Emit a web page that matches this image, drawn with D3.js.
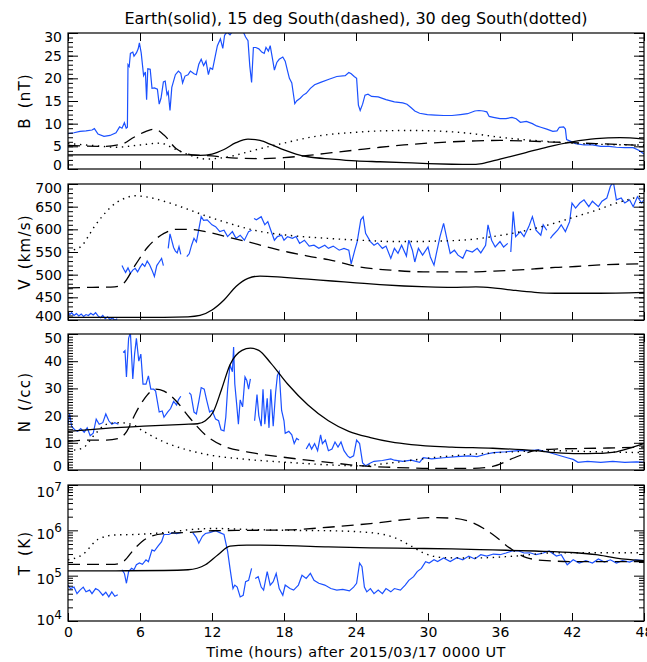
<!DOCTYPE html>
<html>
<head>
<meta charset="utf-8">
<script src="https://cdn.jsdelivr.net/npm/d3@7"></script>
<style>
  body { margin: 0; background: #fff; }
  text { font-family: "DejaVu Sans", sans-serif; fill: #000; }
</style>
</head>
<body>
<svg id="chart"></svg>
<script>
// ---- labels / ticks ----
const titleText = "Earth(solid), 15 deg South(dashed), 30 deg South(dotted)";
const xTitle = "Time (hours) after 2015/03/17 0000 UT";
const panelLabels = ["B (nT)", "V (km/s)", "N (/cc)", "T (K)"];
const hourTicks = [0, 6, 12, 18, 24, 30, 36, 42, 48];
const bTicks = [0, 5, 10, 15, 20, 25, 30];
const vTicks = [400, 450, 500, 550, 600, 650, 700];
const nTicks = [0, 10, 20, 30, 40, 50];
const tTicks = [1e4, 1e5, 1e6, 1e7];

// ---- B (nT) ----  [hour, value], null = data gap
const obsB = [[0,7.8],[0.5,8.0],[1.0,8.3],[1.5,8.4],[2.0,8.6],[2.2,8.9],[2.5,7.7],[3.0,7.2],[3.5,7.4],[4.0,8.0],[4.3,9.3],[4.5,9.0],[4.7,10.2],[4.85,9.0],[4.95,9.2],[5.0,23.0],[5.1,22.6],[5.2,25.5],[5.4,25.8],[5.5,24.9],[5.7,25.6],[5.85,26.5],[5.95,27.8],[6.1,25.6],[6.3,20.6],[6.45,21.4],[6.55,15.3],[6.65,22.1],[6.85,22.0],[7.0,17.8],[7.2,17.9],[7.45,17.6],[7.6,14.3],[7.75,15.6],[7.95,19.2],[8.1,19.4],[8.25,16.4],[8.35,17.0],[8.5,12.9],[8.65,18.0],[8.95,20.8],[9.2,21.6],[9.4,21.1],[9.55,19.0],[9.75,20.5],[10.0,20.8],[10.2,21.6],[10.5,21.0],[10.7,20.8],[10.9,23.1],[11.1,24.2],[11.3,22.8],[11.5,23.8],[11.7,20.8],[11.85,22.3],[12.05,22.0],[12.3,25.3],[12.45,27.2],[12.7,28.7],[12.9,26.6],[13.05,29.5],[13.25,30.2],[13.5,29.6],[13.75,30.5],[14.0,30.2],[14.3,30.5],[14.55,30.6],[14.8,29.1],[15.0,28.3],[15.15,22.7],[15.3,19.1],[15.45,26.8],[15.65,26.8],[15.9,26.5],[16.15,25.8],[16.35,25.5],[16.5,26.8],[16.7,26.0],[16.85,27.2],[17.05,24.2],[17.2,21.8],[17.4,23.5],[17.6,24.2],[17.9,24.7],[18.1,23.8],[18.3,21.6],[18.45,20.0],[18.65,19.0],[18.9,14.4],[19.05,15.0],[19.35,15.6],[19.6,16.3],[19.85,16.7],[20.2,17.8],[20.55,18.6],[21.05,19.1],[21.75,19.8],[22.4,20.4],[23.1,20.6],[23.4,21.3],[23.6,21.0],[23.85,20.4],[24.05,20.0],[24.2,14.1],[24.35,12.9],[24.55,14.3],[24.75,16.3],[25.0,16.5],[25.3,16.0],[25.85,15.9],[26.5,15.3],[27.2,14.8],[27.9,14.6],[28.25,14.3],[28.6,13.5],[28.9,12.8],[29.3,12.3],[29.95,12.0],[30.6,11.9],[31.3,11.8],[32.0,11.8],[32.7,12.0],[33.3,12.2],[33.9,12.8],[34.25,12.9],[34.6,12.8],[34.9,12.6],[35.1,11.6],[35.45,11.4],[36.0,11.1],[36.5,11.1],[37.0,11.4],[37.35,11.1],[37.7,10.3],[38.2,10.5],[38.7,10.0],[39.05,9.5],[39.4,9.2],[39.9,8.8],[40.4,8.3],[40.75,8.4],[40.95,9.2],[41.3,9.3],[41.45,8.8],[41.55,6.5],[41.8,6.2],[42.3,5.6],[43.0,5.3],[43.7,5.3],[44.4,5.0],[45.1,5.0],[45.7,4.8],[46.4,4.7],[47.1,4.7],[47.6,4.1],[48.0,3.3]];
const earthB = [[0,3.1],[4,3.1],[8,3.1],[10,3.1],[11,3.0],[12,3.3],[13,4.3],[14,5.8],[15,6.6],[16,6.3],[17,5.3],[18,4.2],[19,3.3],[20,2.7],[22,2.2],[24,1.8],[26,1.6],[28,1.4],[30,1.2],[32,1.05],[33.5,1.0],[34.5,1.2],[36,2.2],[38,3.5],[40,4.9],[42,6.0],[44,6.7],[46,6.9],[48,6.6]];
const south15B = [[0,5.2],[3,5.0],[4.5,5.5],[5.5,7.0],[6.5,8.3],[7.2,8.8],[8,7.5],[9,4.5],[10,3.3],[11,3.0],[12,2.9],[13,2.6],[14,2.4],[16,2.3],[18,2.5],[20,3.0],[22,3.6],[24,4.2],[26,4.8],[28,5.3],[30,5.7],[32,6.0],[34,6.2],[36,6.3],[38,6.2],[40,6.0],[42,5.8],[44,5.6],[46,5.4],[48,5.2]];
const south30B = [[0,5.6],[2,5.2],[4,4.8],[6,5.3],[7.7,5.7],[8.75,4.6],[9.9,3.3],[11.5,2.2],[13.2,2.6],[14.9,3.7],[16.5,4.8],[18.3,5.9],[20,6.9],[21.7,7.6],[24,8.1],[26,8.4],[28.6,8.5],[30.6,8.4],[32,8.2],[34,7.7],[36,7.0],[39.3,6.2],[42,5.7],[44.9,5.4],[48,5.3]];

// ---- V (km/s) ----
const obsV = [[0,418],[0.15,412],[0.3,416],[0.5,410],[0.7,414],[0.9,409],[1.1,413],[1.3,408],[1.5,412],[1.7,410],[1.9,415],[2.1,411],[2.3,416],[2.5,409],[2.7,405],[2.9,410],[3.1,403],[3.3,407],[3.5,401],[3.7,405],[3.9,399],[4.1,403],[4.3,null],[4.5,520],[4.65,512],[4.8,505],[5.0,515],[5.2,503],[5.4,510],[5.6,514],[5.8,506],[6.0,516],[6.2,524],[6.4,518],[6.6,530],[6.8,522],[7.0,510],[7.2,496],[7.4,520],[7.6,528],[7.8,536],[7.95,520],[8.1,null],[8.35,558],[8.5,590],[8.65,575],[8.8,560],[8.95,552],[9.1,548],[9.25,562],[9.4,545],[9.5,null],[9.9,540],[10.1,546],[10.3,565],[10.5,580],[10.7,572],[10.9,600],[11.1,628],[11.3,620],[11.6,621],[12.0,610],[12.3,606],[12.65,595],[13.0,598],[13.3,584],[13.7,595],[14.0,580],[14.35,587],[14.7,576],[15.05,595],[15.3,598],[15.4,null],[15.5,624],[15.7,621],[16.1,628],[16.4,610],[16.65,617],[16.9,598],[17.2,576],[17.45,584],[17.8,587],[18.0,576],[18.3,584],[18.7,580],[19.0,584],[19.3,569],[19.7,576],[20.1,563],[20.5,565],[20.9,558],[21.4,565],[21.7,558],[22.1,563],[22.6,554],[23.0,558],[23.4,554],[23.6,524],[23.9,554],[24.1,573],[24.4,621],[24.6,628],[24.8,591],[25.2,573],[25.5,565],[25.8,570],[26.2,558],[26.5,563],[26.9,536],[27.2,558],[27.5,547],[27.8,565],[28.2,541],[28.4,576],[28.7,554],[28.9,528],[29.2,558],[29.55,543],[30.0,561],[30.2,539],[30.5,521],[30.7,547],[31.0,584],[31.3,613],[31.6,576],[31.85,547],[32.2,554],[32.5,543],[32.9,536],[33.2,554],[33.7,550],[34.1,558],[34.4,548],[34.8,565],[35.0,610],[35.3,576],[35.6,561],[36.0,573],[36.3,561],[36.65,569],[36.75,null],[36.9,550],[37.1,639],[37.3,584],[37.7,595],[38.0,584],[38.4,606],[38.7,628],[39.0,598],[39.4,587],[39.6,610],[39.9,598],[40.0,null],[40.2,580],[40.4,587],[40.8,598],[41.1,610],[41.45,595],[41.8,617],[42.0,658],[42.3,647],[42.65,658],[43.0,665],[43.4,650],[43.7,662],[44.2,650],[44.5,662],[44.9,669],[45.2,695],[45.45,704],[45.7,665],[46.1,669],[46.4,658],[46.8,665],[47.1,650],[47.45,672],[47.8,658],[48.0,665]];
const earthV = [[0,406],[4,406],[8,406],[10,407],[11,410],[12,422],[13,444],[14,474],[15,492],[16,497],[18,494],[20,490],[22,486],[24,482],[26,478],[28,475],[30,473],[32,472],[34,473],[35.4,471],[37,466],[38.9,461],[40.6,459],[44,459],[48,461]];
const south15V = [[0,471],[2,472],[3.9,473],[4.6,480],[5.6,521],[6.65,561],[8,591],[9.05,600],[10.1,600],[11.45,595],[13,585],[14.9,573],[16.5,562],[18.3,550],[20,541],[21.7,533],[23,525],[24.1,518],[25.5,513],[26.9,510],[28.5,507],[30.3,506],[32,506],[33.7,506],[35.5,508],[37.2,510],[39,513],[40.6,516],[42.3,518],[44,521],[46,523],[48,524]];
const south30V = [[0,552],[0.6,556],[1.2,565],[1.7,585],[2.2,606],[2.9,630],[3.6,650],[4.6,667],[5.6,674],[6.65,671],[8,662],[9.7,647],[11.45,630],[13.2,615],[14.9,602],[16.5,593],[18.3,587],[20,583],[21.7,580],[23.5,577],[25.2,575],[27,573],[29,573],[30.5,574],[32,575],[33.7,578],[35.4,584],[37.2,592],[38.9,602],[40.6,614],[42.3,628],[44,642],[45.7,658],[47,668],[48,676]];

// ---- N (/cc) ----
const obsN = [[0,16.8],[0.14,20.6],[0.3,16.1],[0.55,14.8],[0.8,14.2],[1.06,15.2],[1.35,13.9],[1.6,15.5],[1.85,12.6],[2.1,13.5],[2.35,18.7],[2.6,16.8],[2.9,17.4],[3.15,20.6],[3.4,18.1],[3.65,16.8],[3.9,17.4],[4.2,16.8],[4.4,null],[4.6,43.2],[4.75,43.9],[4.87,34.2],[5.05,48.4],[5.2,50.5],[5.4,33.5],[5.55,42.6],[5.7,48.4],[5.9,40.0],[6.07,42.6],[6.25,31.6],[6.5,31.6],[6.7,34.6],[6.9,29.7],[7.15,29.7],[7.3,29.0],[7.6,21.3],[7.85,21.7],[8.0,19.4],[8.3,21.3],[8.55,22.6],[8.8,25.2],[9.05,23.9],[9.2,25.8],[9.4,27.1],[9.6,null],[10.1,28.4],[10.25,27.7],[10.5,21.3],[10.7,20.6],[10.9,25.2],[11.1,30.3],[11.35,29.7],[11.55,25.8],[11.8,21.3],[12.0,21.9],[12.3,18.7],[12.55,18.1],[12.75,14.8],[13.0,14.4],[13.15,19.4],[13.3,29.7],[13.5,38.7],[13.7,36.1],[13.8,45.2],[13.9,31.6],[14.05,24.5],[14.2,16.8],[14.35,25.8],[14.55,23.2],[14.75,34.2],[14.9,32.9],[15.05,29.7],[15.2,33.5],[15.35,null],[15.55,18.1],[15.75,27.7],[15.9,20.0],[16.1,16.1],[16.25,29.7],[16.4,16.8],[16.6,26.4],[16.75,15.5],[16.9,29.7],[17.1,16.1],[17.3,28.4],[17.45,34.8],[17.6,36.1],[17.8,21.9],[18.0,18.1],[18.1,13.5],[18.4,14.2],[18.65,12.9],[18.85,9.7],[19.05,11.6],[19.25,11.0],[19.5,null],[19.85,7.7],[20.1,9.7],[20.3,7.7],[20.55,9.7],[20.8,7.1],[21.05,12.9],[21.2,9.7],[21.45,11.0],[21.7,7.1],[22.0,7.7],[22.25,10.3],[22.5,8.4],[22.75,10.3],[23.0,7.1],[23.3,5.2],[23.5,4.5],[23.8,5.2],[24.05,11.0],[24.3,9.7],[24.55,2.6],[24.8,1.6],[25.2,2.6],[25.5,3.2],[26.2,3.5],[26.9,4.1],[27.2,3.6],[27.9,3.2],[28.6,3.6],[29.3,2.8],[29.6,4.5],[30.3,4.1],[31.3,4.5],[32.4,4.9],[33.4,5.2],[34.1,4.9],[34.8,5.8],[35.45,6.4],[36.5,6.7],[37.5,7.1],[38.5,7.1],[39.2,7.4],[39.9,6.7],[40.6,5.8],[41.6,4.5],[42.1,3.9],[42.5,2.8],[43.3,3.2],[44.4,2.8],[45.4,3.2],[46.4,2.8],[47.4,3.0],[48.0,2.8]];
const earthN = [[0,14.2],[2.9,15.2],[6.3,16.1],[9.7,16.8],[10.8,17.0],[11.45,18.1],[12.1,21.3],[12.8,29.7],[13.5,38.7],[14.5,44.0],[15.2,44.8],[15.9,44.0],[16.9,39.3],[18.3,31.6],[20,23.9],[21.7,18.1],[23.4,14.2],[25.2,11.9],[26.9,10.3],[28.6,9.3],[32,8.4],[35.4,8.0],[38.9,7.1],[40.6,6.4],[42.5,6.0],[44,6.1],[45.7,6.7],[47.1,8.4],[48,9.7]];
const south15N = [[0,10.5],[1.85,11.0],[3.2,11.0],[4.25,11.6],[4.9,14.2],[5.6,20.6],[6.3,25.8],[7.3,29.7],[8.0,29.0],[9.05,25.2],[10.1,19.4],[11.45,12.9],[13.2,8.4],[14.9,6.7],[18.3,4.5],[21.7,2.8],[24.5,1.5],[26.9,1.0],[30.3,0.6],[33.7,0.6],[35.4,1.3],[37.2,4.5],[38.9,7.1],[40.6,7.7],[44,8.0],[48,8.4]];
const south30N = [[0,7.1],[1.2,8.0],[2.2,12.9],[3.2,16.8],[4.25,17.4],[5.3,16.8],[6.3,14.2],[8,10.3],[9.7,7.7],[11.45,5.8],[14.9,3.9],[18.3,2.8],[21.7,1.9],[24.1,1.5],[26.9,2.6],[30.3,4.5],[33.7,5.8],[37.2,6.7],[40.6,7.1],[44,6.7],[48,6.4]];

// ---- T (K) ----
const obsT = [[0,6.2e4],[0.2,5.2e4],[0.5,5.6e4],[0.75,4.0e4],[1.0,4.8e4],[1.27,5.6e4],[1.5,4.4e4],[1.8,4.8e4],[2.0,4.0e4],[2.3,5.2e4],[2.55,4.8e4],[2.9,3.7e4],[3.15,4.3e4],[3.4,3.4e4],[3.65,4.4e4],[3.9,3.5e4],[4.15,3.8e4],[4.3,null],[4.5,1.35e5],[4.7,1.12e5],[4.87,6.8e4],[5.05,1.23e5],[5.3,1.45e5],[5.5,1.35e5],[5.7,1.74e5],[5.95,1.9e5],[6.2,1.78e5],[6.5,2.24e5],[6.7,2.04e5],[7.0,3.7e5],[7.2,3.5e5],[7.5,4.5e5],[7.8,5.6e5],[8.0,8.1e5],[8.4,8.1e5],[8.7,8.9e5],[9.05,8.5e5],[9.4,8.9e5],[9.7,null],[10.4,8.9e5],[10.7,6.9e5],[10.9,5.2e5],[11.2,7.4e5],[11.45,8.5e5],[11.8,8.9e5],[12.3,9.8e5],[12.65,8.9e5],[13.0,8.1e5],[13.3,3.5e5],[13.5,1.45e5],[13.75,5.2e4],[13.9,6.2e4],[14.1,5.6e4],[14.35,3.4e4],[14.6,3.7e4],[14.8,7.4e4],[15.05,7.9e4],[15.3,1.45e5],[15.45,null],[15.6,8.7e4],[15.85,9.5e4],[16.1,5.6e4],[16.3,4.8e4],[16.6,1.23e5],[16.85,6.2e4],[17.1,7.4e4],[17.35,1.12e5],[17.6,5.2e4],[17.9,3.7e4],[18.1,6.2e4],[18.5,5.2e4],[18.8,4.8e4],[19.2,6.2e4],[19.5,1.02e5],[19.85,8.7e4],[20.2,1.12e5],[20.5,7.9e4],[20.9,6.8e4],[21.4,6.2e4],[21.9,5.2e4],[22.4,4.8e4],[22.9,5.0e4],[23.45,4.6e4],[23.8,5.6e4],[24.05,6.8e4],[24.3,1.9e5],[24.5,1.58e5],[24.7,5.6e4],[24.9,4.4e4],[25.2,5.2e4],[25.5,4.0e4],[25.85,4.8e4],[26.2,4.0e4],[26.5,5.2e4],[26.9,4.4e4],[27.2,5.2e4],[27.7,4.8e4],[28.1,6.2e4],[28.4,7.9e4],[28.8,9.5e4],[29.1,1.23e5],[29.45,1.45e5],[29.8,2.04e5],[30.1,1.9e5],[30.5,2.24e5],[30.8,2.04e5],[31.3,2.45e5],[31.85,2.04e5],[32.4,2.5e5],[32.9,2.24e5],[33.4,2.7e5],[33.9,2.34e5],[34.4,2.9e5],[34.9,2.7e5],[35.45,3.0e5],[36.0,2.9e5],[36.5,3.16e5],[37.0,3.5e5],[37.5,3.55e5],[38.0,3.16e5],[38.5,3.2e5],[39.0,2.9e5],[39.6,3.16e5],[40.1,3.5e5],[40.7,2.7e5],[41.1,2.9e5],[41.6,1.74e5],[42.1,2.24e5],[42.6,1.9e5],[43.15,2.14e5],[43.7,1.9e5],[44.2,2.34e5],[44.7,2.0e5],[45.2,2.24e5],[45.7,1.9e5],[46.2,2.14e5],[46.8,2.0e5],[47.3,2.24e5],[48.0,2.14e5]];
const earthT = [[0,1.27e5],[4,1.28e5],[8,1.3e5],[10,1.35e5],[11.45,1.74e5],[12.5,2.9e5],[13.5,4.5e5],[14.9,4.7e5],[16,4.7e5],[18.3,4.6e5],[21.7,4.3e5],[25.2,4.1e5],[28.6,4.0e5],[32,3.9e5],[35.4,3.7e5],[38.9,3.5e5],[42.3,3.2e5],[44,2.9e5],[45.7,2.45e5],[48,2.14e5]];
const south15T = [[0,1.78e5],[2,1.78e5],[3.9,1.78e5],[4.6,2.04e5],[5.6,4.1e5],[6.65,6.9e5],[8,8.5e5],[9.7,8.9e5],[12.1,9.8e5],[14.9,1.0e6],[18.3,1.02e6],[21.7,1.17e6],[25.2,1.41e6],[28.6,1.78e6],[30.3,1.9e6],[32,1.86e6],[33.7,1.48e6],[35.4,8.1e5],[36.8,4.1e5],[38.2,2.5e5],[39.9,2.14e5],[42.3,2.04e5],[48,2.04e5]];
const south30T = [[0,2.24e5],[1.2,2.9e5],[2.5,6.3e5],[3.9,7.9e5],[5.6,8.1e5],[8,8.9e5],[10.4,1.05e6],[12.1,1.1e6],[14.9,1.05e6],[18.3,1.0e6],[21.7,9.8e5],[25.2,8.9e5],[27.2,6.9e5],[28.6,4.5e5],[29.6,3.2e5],[31.3,2.5e5],[33.7,2.45e5],[37.2,2.7e5],[40.6,3.2e5],[44,3.2e5],[48,3.2e5]];

// ---- layout ----
const W = 647, H = 662;
const plotL = 68, plotR = 644;
const tops = [33, 184, 334, 485], ph = 136;
const blue = "#1a50ff";

const svg = d3.select("#chart").attr("width", W).attr("height", H);
svg.append("rect").attr("width", W).attr("height", H).attr("fill", "#fff");

const x = d3.scaleLinear().domain([0, 48]).range([plotL, plotR]);

const panels = [
  { y: d3.scaleLinear().domain([0, 30]), ticks: bTicks, minor: d3.range(0, 31, 1), obs: obsB, solid: earthB, dashed: south15B, dotted: south30B },
  { y: d3.scaleLinear().domain([400, 700]), ticks: vTicks, minor: d3.range(400, 701, 10), obs: obsV, solid: earthV, dashed: south15V, dotted: south30V },
  { y: d3.scaleLinear().domain([0, 50]), ticks: nTicks, minor: d3.range(0, 51, 1), obs: obsN, solid: earthN, dashed: south15N, dotted: south30N },
  { y: d3.scaleLog().domain([1e4, 1e7]), ticks: tTicks, log: true,
    minor: [1e4, 1e5, 1e6].flatMap(d => d3.range(2, 10).map(m => m * d)), obs: obsT, solid: earthT, dashed: south15T, dotted: south30T }
];

panels.forEach(function(p, i) {
  const top = tops[i], bot = top + ph;
  p.y.range([bot, top]);
  const g = svg.append("g");

  const clipId = "clip" + i;
  svg.append("clipPath").attr("id", clipId)
    .append("rect").attr("x", plotL).attr("y", top).attr("width", plotR - plotL).attr("height", ph);

  const line = d3.line().defined(d => d[1] != null).x(d => x(d[0])).y(d => p.y(d[1]));
  const smooth = d3.line().x(d => x(d[0])).y(d => p.y(d[1])).curve(d3.curveMonotoneX);
  const lines = g.append("g").attr("clip-path", "url(#" + clipId + ")");

  lines.append("path").datum(p.obs).attr("d", line)
    .attr("fill", "none").attr("stroke", blue).attr("stroke-width", 1.2);
  lines.append("path").datum(p.solid).attr("d", smooth)
    .attr("fill", "none").attr("stroke", "#000").attr("stroke-width", 1.3);
  lines.append("path").datum(p.dashed).attr("d", smooth)
    .attr("fill", "none").attr("stroke", "#000").attr("stroke-width", 1.3).attr("stroke-dasharray", "12,7");
  lines.append("path").datum(p.dotted).attr("d", smooth)
    .attr("fill", "none").attr("stroke", "#000").attr("stroke-width", 1.4).attr("stroke-dasharray", "1.4,4.6");

  // frame
  g.append("rect").attr("x", plotL).attr("y", top).attr("width", plotR - plotL).attr("height", ph)
    .attr("fill", "none").attr("stroke", "#000").attr("stroke-width", 1.2);

  // y axes (left with labels, right mirrored)
  const fmt = p.log ? (() => "") : d3.format("d");
  const yl = g.append("g").attr("transform", "translate(" + plotL + ",0)")
    .call(d3.axisLeft(p.y).tickValues(p.ticks).tickSize(-10).tickPadding(6).tickFormat(fmt));
  g.append("g").attr("transform", "translate(" + plotL + ",0)")
    .call(d3.axisLeft(p.y).tickValues(p.minor).tickSize(-5).tickFormat(""));
  g.append("g").attr("transform", "translate(" + plotR + ",0)")
    .call(d3.axisRight(p.y).tickValues(p.ticks).tickSize(-10).tickFormat(""));
  g.append("g").attr("transform", "translate(" + plotR + ",0)")
    .call(d3.axisRight(p.y).tickValues(p.minor).tickSize(-5).tickFormat(""));

  // x axes
  g.append("g").attr("transform", "translate(0," + bot + ")")
    .call(d3.axisBottom(x).tickValues(hourTicks).tickSize(-8).tickPadding(6)
      .tickFormat(i === 3 ? d3.format("d") : ""));
  g.append("g").attr("transform", "translate(0," + top + ")")
    .call(d3.axisTop(x).tickValues(hourTicks).tickSize(-8).tickFormat(""));

  g.selectAll(".domain").remove();
  g.selectAll(".tick line").attr("stroke", "#000").attr("stroke-width", 1);
  g.selectAll(".tick text").style("font-size", "14px").style("font-family", "DejaVu Sans, sans-serif").attr("fill", "#000");

  if (p.log) {
    yl.selectAll(".tick text").each(function(d) {
      const t = d3.select(this);
      t.append("tspan").text("10");
      t.append("tspan").attr("dy", "-0.55em").style("font-size", "12px").text(Math.round(Math.log10(d)));
    }).attr("dy", "0.55em");
  }

  // end labels sit slightly inside the frame, as in the original
  const lab = yl.selectAll(".tick text");
  const nLab = lab.size();
  lab.attr("transform", (d, k) => k === 0 ? "translate(0,-4)" : (k === nLab - 1 ? "translate(0,4)" : null));

  g.append("text")
    .attr("transform", "translate(" + 30 + "," + (top + ph / 2) + ")rotate(-90)")
    .attr("text-anchor", "middle").style("font-size", "15px").style("letter-spacing", "1.2px")
    .style("word-spacing", "3px").text(panelLabels[i]);
});

svg.append("text").attr("x", (plotL + plotR) / 2).attr("y", 24)
  .attr("text-anchor", "middle").style("font-size", "16px").text(titleText);
svg.append("text").attr("x", (plotL + plotR) / 2).attr("y", 657)
  .attr("text-anchor", "middle").style("font-size", "14.5px").style("letter-spacing", "0.4px").text(xTitle);
</script>
</body>
</html>
